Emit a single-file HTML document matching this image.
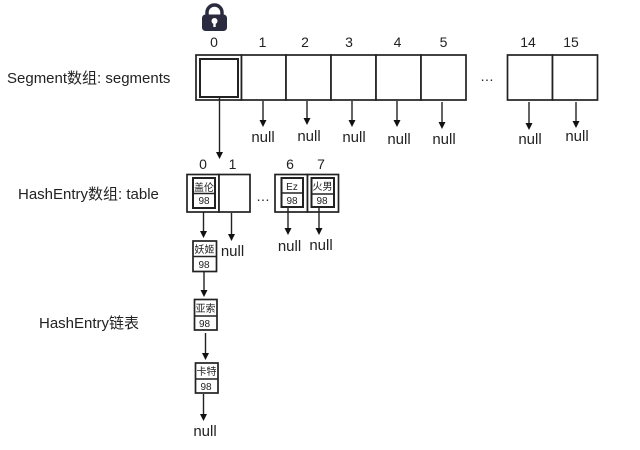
<!DOCTYPE html>
<html><head><meta charset="utf-8"><style>
html,body{margin:0;padding:0;background:#fff}
svg{display:block}
text{font-family:"Liberation Sans","Noto Sans CJK SC",sans-serif;fill:#222}
.n{font-size:14px;text-anchor:middle}
.u{font-size:15px;text-anchor:middle}
.l{font-size:15px}
.s{font-size:10px;text-anchor:middle}
.b{fill:#fff;stroke:#222;stroke-width:1.7}
.d{fill:none;stroke:#222;stroke-width:1.6}
.a{stroke:#222;stroke-width:1.4;fill:none}
.h{fill:#111;stroke:none}
</style></head><body>
<svg width="640" height="450" viewBox="0 0 640 450" xmlns="http://www.w3.org/2000/svg">
<rect width="640" height="450" fill="#fff"/>
<!-- lock -->
<path d="M207 16v-3.500a7.500 7.500 0 0 1 15 0v3.500" fill="none" stroke="#2b2b3f" stroke-width="3.500"/>
<rect x="202" y="14.500" width="25" height="16.500" rx="3.500" fill="#2b2b3f"/>
<circle cx="214.500" cy="21" r="3" fill="#fff"/><rect x="213.300" y="22" width="2.400" height="5" fill="#fff"/>
<!-- top labels -->
<text class="n" x="214" y="47">0</text><text class="n" x="262.500" y="47">1</text><text class="n" x="305" y="47">2</text><text class="n" x="349" y="47">3</text><text class="n" x="397.500" y="47">4</text><text class="n" x="443.500" y="47">5</text><text class="n" x="528" y="47">14</text><text class="n" x="571" y="47">15</text>
<text class="l" x="7" y="83">Segment数组: segments</text>
<text class="l" x="18" y="199">HashEntry数组: table</text>
<text class="l" x="39" y="328">HashEntry链表</text>
<!-- segments -->
<rect class="b" x="196" y="55" width="45.500" height="45"/>
<rect class="b" x="241.500" y="55" width="44.500" height="45"/><rect class="b" x="286" y="55" width="45" height="45"/><rect class="b" x="331" y="55" width="45" height="45"/><rect class="b" x="376" y="55" width="45" height="45"/><rect class="b" x="421" y="55" width="45" height="45"/>
<rect class="b" x="507.500" y="55" width="45" height="45"/><rect class="b" x="552.500" y="55" width="45" height="45"/>
<rect x="200" y="59" width="38" height="38" fill="none" stroke="#222" stroke-width="2"/>
<text x="480" y="81" style="font-size:14px">…</text>
<!-- seg arrows -->
<path class="a" d="M219.500 97V152M263 101V120M307 101V118M352 101V120M397 101V120M442 102V122M529 102V123M576 102V121"/>
<path class="h" d="M216 152h7l-3.500 7zM259.500 120h7l-3.500 7zM303.500 118h7l-3.500 7zM348.500 120h7l-3.500 7zM393.500 120h7l-3.500 7zM438.500 122h7l-3.500 7zM525.500 123h7l-3.500 7zM572.500 121h7l-3.500 7z"/>
<text class="u" x="263" y="142">null</text><text class="u" x="309" y="141">null</text><text class="u" x="354" y="142">null</text><text class="u" x="399" y="144">null</text><text class="u" x="444" y="144">null</text><text class="u" x="530" y="144">null</text><text class="u" x="577" y="141">null</text>
<!-- table labels -->
<text class="n" x="203" y="169">0</text><text class="n" x="232.500" y="169">1</text><text class="n" x="290" y="169">6</text><text class="n" x="321" y="169">7</text>
<!-- table -->
<rect class="b" x="187" y="174.500" width="32" height="37.500"/><rect class="b" x="219" y="174.500" width="31" height="37.500"/>
<rect class="b" x="275" y="174.500" width="32.500" height="37.500"/><rect class="b" x="307.500" y="174.500" width="31" height="37.500"/>
<text x="256" y="201" style="font-size:14px">…</text>
<!-- entries -->
<rect class="b" x="193" y="178" width="22" height="30" style="stroke-width:2"/><path class="d" d="M193 193.500H215"/>
<text class="s" x="204" y="191">盖伦</text><text class="s" x="204" y="204">98</text>
<rect class="b" x="281.500" y="178" width="21.500" height="29" style="stroke-width:2"/><path class="d" d="M281.500 193H303"/>
<text class="s" x="292" y="190">Ez</text><text class="s" x="292" y="204">98</text>
<rect class="b" x="311.500" y="178" width="22.500" height="29" style="stroke-width:2"/><path class="d" d="M311.500 194H334"/>
<text class="s" x="322.500" y="190">火男</text><text class="s" x="322" y="204">98</text>
<rect class="b" x="193" y="241" width="23.500" height="30.500"/><path class="d" d="M193 256.500H216.500"/>
<text class="s" x="204.500" y="253">妖姬</text><text class="s" x="204" y="268">98</text>
<rect class="b" x="194.500" y="299.500" width="22.500" height="30.500"/><path class="d" d="M194.500 316H217"/>
<text class="s" x="205.500" y="312">亚索</text><text class="s" x="204.500" y="327">98</text>
<rect class="b" x="195.500" y="363" width="22.500" height="30"/><path class="d" d="M195.500 379H218"/>
<text class="s" x="206.500" y="375">卡特</text><text class="s" x="206" y="390">98</text>
<!-- lower arrows -->
<path class="a" d="M203.500 212V231M231.500 213V234M288 207V228M319 207V228M204 272V290M205.500 333V353M203.500 394V414"/>
<path class="h" d="M200 231h7l-3.500 7zM228 234h7l-3.500 7zM284.500 228h7l-3.500 7zM315.500 228h7l-3.500 7zM200.500 290h7l-3.500 7zM202 353h7l-3.500 7zM200 414h7l-3.500 7z"/>
<text class="u" x="232.500" y="256">null</text><text class="u" x="289.500" y="251">null</text><text class="u" x="321" y="250">null</text><text class="u" x="205" y="436">null</text>
</svg>
</body></html>
